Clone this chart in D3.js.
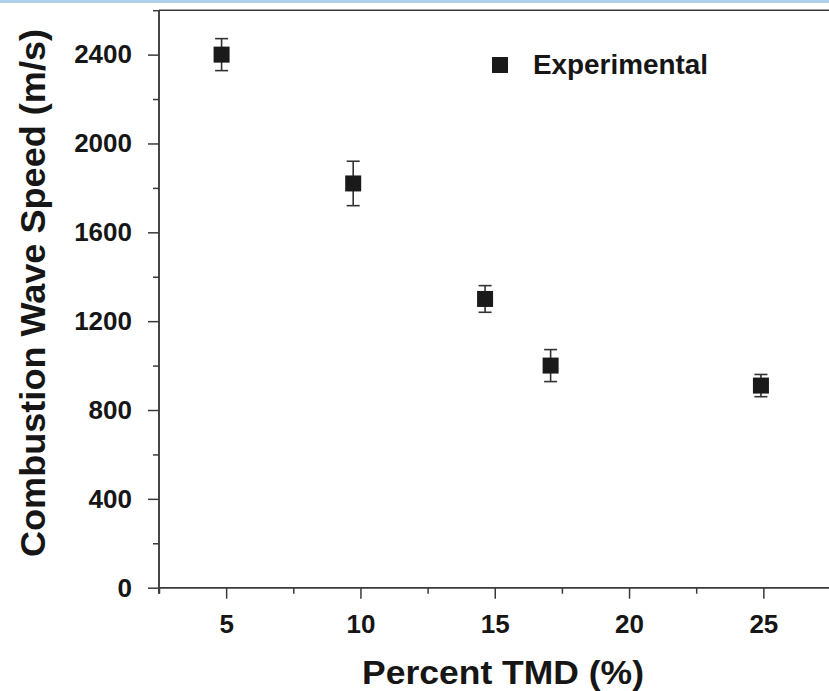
<!DOCTYPE html>
<html>

    <head>
        <meta charset="utf-8">
        <title>Combustion Wave Speed vs Percent TMD</title>
        <script src="https://d3js.org/d3.v7.min.js"></script>
        <style>
            body { margin: 0; background: #fff; }
            svg { display: block; font-family: "Liberation Sans", Arial, sans-serif; }
            .axis path, .axis line { stroke: #3a3a3a; stroke-width: 1.5; }
            .axis text { fill: #161616; font-weight: bold; }
        </style>
    </head>

    <body>
        <div id="chart-container"></div>

        <script>
            // Data
            const tmd = [ 4.83, 9.73, 14.64, 17.08, 24.91 ];
            const speed = [ 2400, 1820, 1300, 1000, 910 ];
            const speedErr = [ 72, 100, 60, 72, 50 ];

            const xMajorTicks = [ 5, 10, 15, 20, 25 ];
            const xMinorTicks = [ 2.5, 7.5, 12.5, 17.5, 22.5 ];
            const yMajorTicks = [ 0, 400, 800, 1200, 1600, 2000, 2400 ];
            const yMinorTicks = [ 200, 600, 1000, 1400, 1800, 2200, 2600 ];

            const seriesName = "Experimental";

            // Chart dimensions
            const width = 829;
            const height = 691;
            const plotLeft = 159;
            const plotTop = 10.2;
            const plotBottom = 587.7;
            const plotRight = plotLeft + 25 * 26.86;

            const svg = d3.select( "#chart-container" )
                .append( "svg" )
                .attr( "width", width )
                .attr( "height", height );

            // light blue band along the top edge
            svg.append( "rect" )
                .attr( "x", 0 )
                .attr( "y", 0 )
                .attr( "width", width )
                .attr( "height", 3 )
                .attr( "fill", "#b0d0ea" );

            const xScale = d3.scaleLinear()
                .domain( [ 2.5, 27.5 ] )
                .range( [ plotLeft, plotRight ] );

            const yScale = d3.scaleLinear()
                .domain( [ 0, 2600 ] )
                .range( [ plotBottom, plotTop ] );

            // top frame line
            svg.append( "line" )
                .attr( "x1", plotLeft )
                .attr( "x2", plotRight )
                .attr( "y1", yScale( 2600 ) )
                .attr( "y2", yScale( 2600 ) )
                .attr( "stroke", "#3a3a3a" )
                .attr( "stroke-width", 1.5 );

            // x axis: minor then major ticks
            svg.append( "g" )
                .attr( "class", "axis" )
                .attr( "transform", `translate(0,${ plotBottom })` )
                .call( d3.axisBottom( xScale ).tickValues( xMinorTicks ).tickSize( 6 ).tickFormat( "" ) );

            svg.append( "g" )
                .attr( "class", "axis" )
                .attr( "transform", `translate(0,${ plotBottom })` )
                .call( d3.axisBottom( xScale ).tickValues( xMajorTicks ).tickSize( 11 ).tickPadding( 16 ).tickFormat( d3.format( "d" ) ) )
                .selectAll( "text" )
                .style( "font-size", "26px" );

            // y axis
            svg.append( "g" )
                .attr( "class", "axis" )
                .attr( "transform", `translate(${ plotLeft },0)` )
                .call( d3.axisLeft( yScale ).tickValues( yMinorTicks ).tickSize( 6 ).tickFormat( "" ) );

            svg.append( "g" )
                .attr( "class", "axis" )
                .attr( "transform", `translate(${ plotLeft },0)` )
                .call( d3.axisLeft( yScale ).tickValues( yMajorTicks ).tickSize( 11 ).tickPadding( 16 ).tickFormat( d3.format( "d" ) ) )
                .selectAll( "text" )
                .style( "font-size", "26px" );

            // axis lines without the end caps
            svg.selectAll( ".axis path" ).attr( "d", function ()
            {
                return d3.select( this.parentNode ).attr( "transform" ).includes( "(0," )
                    ? `M${ plotLeft },0H${ plotRight }`
                    : `M0,${ plotBottom + 6 }V${ plotTop }`;
            } );

            // axis titles (slightly stretched like the original)
            svg.append( "text" )
                .attr( "x", 503 )
                .attr( "y", 684 )
                .attr( "text-anchor", "middle" )
                .attr( "font-size", "33px" )
                .attr( "font-weight", "bold" )
                .attr( "fill", "#161616" )
                .attr( "textLength", 282 )
                .attr( "lengthAdjust", "spacingAndGlyphs" )
                .text( "Percent TMD (%)" );

            svg.append( "text" )
                .attr( "transform", "translate(45,293) rotate(-90)" )
                .attr( "text-anchor", "middle" )
                .attr( "font-size", "35px" )
                .attr( "font-weight", "bold" )
                .attr( "fill", "#161616" )
                .attr( "textLength", 528 )
                .attr( "lengthAdjust", "spacingAndGlyphs" )
                .text( "Combustion Wave Speed (m/s)" );

            const points = tmd.map( ( t, i ) => ( { x: t, y: speed[ i ], e: speedErr[ i ] } ) );

            // error bars
            const err = svg.selectAll( ".err" )
                .data( points )
                .enter()
                .append( "g" )
                .attr( "class", "err" )
                .attr( "stroke", "#333" )
                .attr( "stroke-width", 1.6 );

            err.append( "line" )
                .attr( "x1", d => xScale( d.x ) )
                .attr( "x2", d => xScale( d.x ) )
                .attr( "y1", d => yScale( d.y + d.e ) )
                .attr( "y2", d => yScale( d.y - d.e ) );

            err.append( "line" )
                .attr( "x1", d => xScale( d.x ) - 6.5 )
                .attr( "x2", d => xScale( d.x ) + 6.5 )
                .attr( "y1", d => yScale( d.y + d.e ) )
                .attr( "y2", d => yScale( d.y + d.e ) );

            err.append( "line" )
                .attr( "x1", d => xScale( d.x ) - 6.5 )
                .attr( "x2", d => xScale( d.x ) + 6.5 )
                .attr( "y1", d => yScale( d.y - d.e ) )
                .attr( "y2", d => yScale( d.y - d.e ) );

            // square markers
            const size = 16;
            svg.selectAll( ".pt" )
                .data( points )
                .enter()
                .append( "rect" )
                .attr( "class", "pt" )
                .attr( "x", d => xScale( d.x ) - size / 2 )
                .attr( "y", d => yScale( d.y ) - size / 2 )
                .attr( "width", size )
                .attr( "height", size )
                .attr( "fill", "#1a1a1a" );

            // legend
            svg.append( "rect" )
                .attr( "x", 492 )
                .attr( "y", 57 )
                .attr( "width", size )
                .attr( "height", size )
                .attr( "fill", "#1a1a1a" );

            svg.append( "text" )
                .attr( "x", 533 )
                .attr( "y", 74 )
                .attr( "font-size", "27px" )
                .attr( "font-weight", "bold" )
                .attr( "fill", "#161616" )
                .attr( "textLength", 175 )
                .attr( "lengthAdjust", "spacingAndGlyphs" )
                .text( seriesName );
        </script>
    </body>

</html>
